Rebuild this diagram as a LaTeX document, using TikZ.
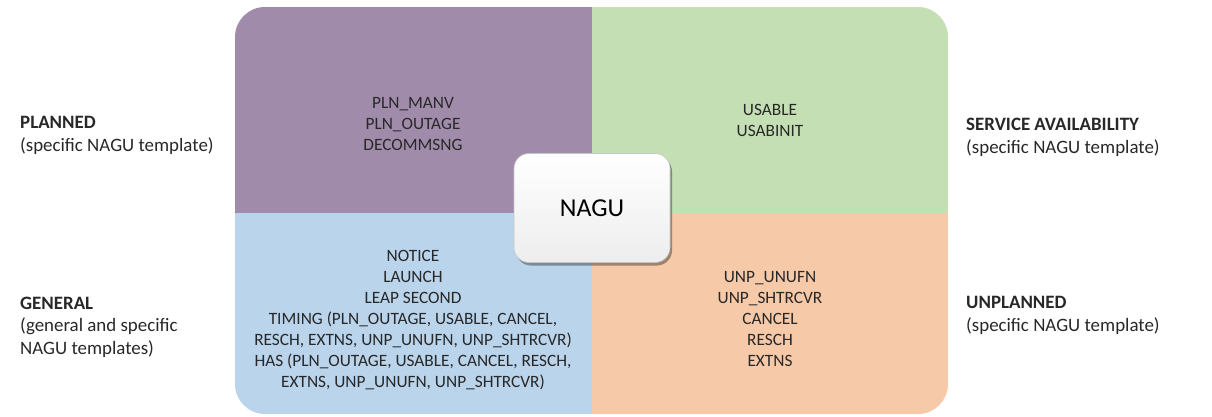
\documentclass[tikz,border=0pt]{standalone}
\usepackage{fontspec}
\setmainfont{Carlito}
\usetikzlibrary{shadows}
\definecolor{qpurple}{RGB}{161,139,171}
\definecolor{qgreen}{RGB}{196,223,179}
\definecolor{qblue}{RGB}{186,212,236}
\definecolor{qorange}{RGB}{246,201,168}
\definecolor{txt}{RGB}{40,40,40}
\tikzset{
  listtext/.style={align=center, inner sep=0pt, text=txt, font=\fontsize{17.3}{21}\selectfont},
  sidetext/.style={align=left, inner sep=0pt, anchor=west, text=txt, font=\fontsize{18.9}{22.5}\selectfont},
  centerbox/.style={draw=gray!45, line width=0.6pt, rounded corners=15pt, minimum width=156pt, minimum height=109pt,
    top color=white, bottom color=gray!14, inner sep=0pt,
    drop shadow={shadow xshift=2pt, shadow yshift=-3pt, opacity=0.35, fill=black},
    font=\fontsize{25.8}{28}\selectfont, text=black}
}
\begin{document}
\begin{tikzpicture}[x=1pt,y=-1pt]
\useasboundingbox[fill=white] (0,0) rectangle (1212,416);
\begin{scope}
  \clip[rounded corners=30pt] (235,7) rectangle (948,414);
  \fill[qpurple] (235,7) rectangle (592,212.5);
  \fill[qgreen] (592,7) rectangle (948,212.5);
  \fill[qblue] (235,212.5) rectangle (592,414);
  \fill[qorange] (592,212.5) rectangle (948,414);
\end{scope}

\node[listtext] (plannedlist) at (413,124) {PLN\_MANV\\PLN\_OUTAGE\\DECOMMSNG};
\node[listtext] (servicelist) at (770,120) {USABLE\\USABINIT};
\node[listtext] (generallist) at (413,320) {NOTICE\\LAUNCH\\LEAP SECOND\\TIMING (PLN\_OUTAGE,\ USABLE, CANCEL,\\RESCH, EXTNS, UNP\_UNUFN, UNP\_SHTRCVR)\\HAS (PLN\_OUTAGE, USABLE, CANCEL, RESCH,\\EXTNS, UNP\_UNUFN, UNP\_SHTRCVR)};
\node[listtext] (unplannedlist) at (770,319) {UNP\_UNUFN\\UNP\_SHTRCVR\\CANCEL\\RESCH\\EXTNS};

\node[centerbox] (nagu) at (592,208) {NAGU};

\node[sidetext] (planned) at (20,135.5) {\textbf{PLANNED}\\(specific NAGU template)};
\node[sidetext] (general) at (20,327) {\textbf{GENERAL}\\(general and specific\\NAGU templates)};
\node[sidetext] (service) at (966,137.5) {\textbf{SERVICE AVAILABILITY}\\(specific NAGU template)};
\node[sidetext] (unplanned) at (966,315.5) {\textbf{UNPLANNED}\\(specific NAGU template)};
\end{tikzpicture}
\end{document}
